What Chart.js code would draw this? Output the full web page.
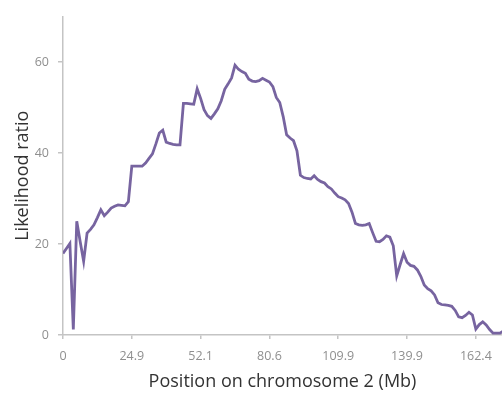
<!DOCTYPE html>
<html lang="en">
<head>
    <meta charset="UTF-8">
    <title>Likelihood ratio, chromosome 2</title>
    <script src="https://cdn.jsdelivr.net/npm/chart.js"></script>
    <style>
        body { margin: 0; background: #fff; }
    </style>
</head>
<body>
    <canvas id="lodChart" width="502" height="396"></canvas>

    <script>
        // Tick labels (Mb) shown every 20 markers
        const positionsMb = ['0', '24.9', '52.1', '80.6', '109.9', '139.9', '162.4'];
        const labelEvery = 20;

        // Likelihood ratio for each marker along the chromosome
        const likelihood = [
            17.9, 19.0, 20.1, 1.2, 25.0, 20.5, 16.2, 22.4, 23.2, 24.2,
            25.8, 27.5, 26.2, 27.0, 27.9, 28.3, 28.6, 28.5, 28.4, 29.3,
            37.1, 37.1, 37.1, 37.1, 37.8, 38.8, 39.8, 42.0, 44.4, 45.0,
            42.4, 42.1, 41.9, 41.8, 41.8, 50.9, 50.9, 50.8, 50.7, 54.1,
            52.0, 49.5, 48.2, 47.6, 48.6, 49.7, 51.5, 54.0, 55.2, 56.5,
            59.3, 58.4, 57.9, 57.5, 56.2, 55.8, 55.7, 55.9, 56.4, 56.0,
            55.6, 54.6, 52.2, 51.1, 48.0, 44.0, 43.3, 42.7, 40.5, 35.1,
            34.6, 34.4, 34.3, 35.0, 34.2, 33.7, 33.4, 32.6, 32.1, 31.2,
            30.4, 30.1, 29.7, 28.9, 27.0, 24.5, 24.2, 24.1, 24.2, 24.5,
            22.5, 20.6, 20.5, 21.0, 21.8, 21.5, 19.6, 13.0, 15.5, 17.9,
            16.0, 15.3, 15.1, 14.3, 12.9, 11.0, 10.2, 9.7, 8.8, 7.1,
            6.7, 6.6, 6.5, 6.3, 5.4, 4.0, 3.8, 4.3, 5.0, 4.4,
            1.3, 2.3, 2.9, 2.2, 1.2, 0.4, 0.4, 0.4, 0.9
        ];

        const yTicks = [0, 20, 40, 60];

        const points = likelihood.map((v, i) => ({ x: i, y: v }));

        const axisColor = '#c4c4c4';
        const tickFont = { family: 'Open Sans', size: 12.5 };
        const titleFont = { family: 'Open Sans', size: 18 };

        const ctx = document.getElementById('lodChart').getContext('2d');
        new Chart(ctx, {
            type: 'line',
            data: {
                datasets: [{
                    data: points,
                    borderColor: '#7764a0',
                    borderWidth: 2.8,
                    pointRadius: 0,
                    tension: 0,
                    fill: false
                }]
            },
            options: {
                responsive: false,
                animation: false,
                devicePixelRatio: 1,
                layout: { padding: { top: 8, right: 0, left: 0, bottom: 0 } },
                plugins: {
                    legend: { display: false },
                    tooltip: { enabled: false }
                },
                scales: {
                    x: {
                        type: 'linear',
                        min: 0,
                        max: 127.6,
                        afterBuildTicks: (scale) => {
                            scale.ticks = positionsMb.map((_, k) => ({ value: k * labelEvery }));
                        },
                        afterFit: (scale) => { scale.height = 61; },
                        grid: {
                            drawOnChartArea: false,
                            drawTicks: true,
                            tickLength: 4,
                            color: axisColor,
                            lineWidth: 1.5
                        },
                        border: { color: axisColor, width: 1.5 },
                        ticks: {
                            autoSkip: false,
                            maxRotation: 0,
                            padding: 10,
                            color: '#8f8f8f',
                            font: tickFont,
                            callback: (v) => positionsMb[Math.round(v / labelEvery)]
                        },
                        title: {
                            display: true,
                            text: 'Position on chromosome 2 (Mb)',
                            color: '#333',
                            font: titleFont,
                            padding: { top: 0, bottom: 3 }
                        }
                    },
                    y: {
                        min: 0,
                        max: 70,
                        afterBuildTicks: (scale) => {
                            scale.ticks = yTicks.map(v => ({ value: v }));
                        },
                        afterFit: (scale) => { scale.width = 63; },
                        grid: {
                            drawOnChartArea: false,
                            drawTicks: true,
                            tickLength: 5,
                            color: axisColor,
                            lineWidth: 1.5
                        },
                        border: { color: axisColor, width: 1.5 },
                        ticks: {
                            padding: 9,
                            color: '#8f8f8f',
                            font: tickFont
                        },
                        title: {
                            display: true,
                            text: 'Likelihood ratio',
                            color: '#333',
                            font: titleFont,
                            padding: { top: 12, bottom: 0 }
                        }
                    }
                }
            }
        });
    </script>
</body>
</html>
